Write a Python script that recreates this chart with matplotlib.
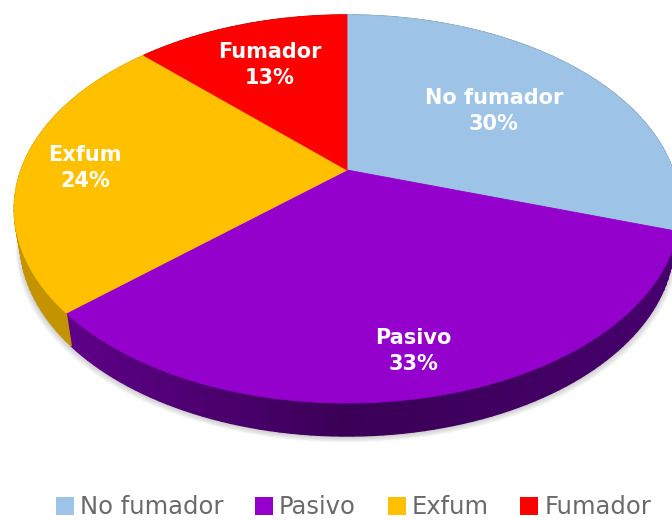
import numpy as np
import matplotlib
matplotlib.use("Agg")
import matplotlib.pyplot as plt
from matplotlib.path import Path
from matplotlib.transforms import Transform, Affine2D

categories = ["No fumador", "Pasivo", "Exfum", "Fumador"]
values = [30, 33.4, 24, 12.6]
colors = ["#9DC3E6", "#9400CC", "#FFC000", "#FF0000"]
label_xy = [(494, 111), (413, 351), (85, 168), (270, 65)]

CX, CY, A, B, K = 347.0, 170.0, 326.0, 186.2, 0.201
DEPTH, SHRINK = 33.0, 0.982


def project(u, v, dy=0.0, s=1.0):
    den = 1 + K * v
    return CX + s * A * u / den, CY - B * v / den + dy


class Persp(Transform):
    input_dims = output_dims = 2
    has_inverse = False
    is_affine = False

    def transform_non_affine(self, values):
        x, y = project(values[:, 0], values[:, 1])
        return np.column_stack([x, y])

    def transform_path_non_affine(self, path):
        big = path.transformed(Affine2D().scale(2000))
        poly = big.to_polygons(closed_only=False)[0] / 2000
        return Path(self.transform_non_affine(poly))


fig = plt.figure(figsize=(6.72, 5.20), dpi=100)
ax = fig.add_axes([0, 0, 1, 1])
wedges, _ = ax.pie(values, colors=colors, startangle=90, counterclock=False, radius=1)
ax.set_aspect("auto")
ax.set_xlim(0, 672)
ax.set_ylim(520, 0)
ax.axis("off")

persp = Persp()
for w, c in zip(wedges, colors):
    w.set_transform(persp + ax.transData)
    w.set_zorder(3)
    w.set_edgecolor(c)
    w.set_linewidth(0.6)
    w.set_clip_on(True)

# soft shadow under the rim
th = np.linspace(0, 2 * np.pi, 361)
for i in range(7):
    sx, sy = project(np.sin(th), np.cos(th), dy=DEPTH + 1 + i * 0.9, s=SHRINK + i * 0.0022)
    ax.fill(sx, sy, color="#707070", alpha=0.055, lw=0, zorder=0.2)


def lerp(c1, c2, t):
    c1, c2 = np.array(matplotlib.colors.to_rgb(c1)), np.array(matplotlib.colors.to_rgb(c2))
    return tuple(c1 + (c2 - c1) * t)


# side wall, built from the slice angles
ends = np.cumsum(values) / np.sum(values) * 2 * np.pi
starts = np.r_[0, ends[:-1]]
for a0, a1, name in zip(starts, ends, categories):
    steps = np.linspace(a0, a1, int((a1 - a0) / np.radians(1.5)) + 2)
    for t0, t1 in zip(steps[:-1], steps[1:]):
        x0, y0 = project(np.sin(t0), np.cos(t0))
        x1, y1 = project(np.sin(t1), np.cos(t1))
        x2, y2 = project(np.sin(t1), np.cos(t1), DEPTH, SHRINK)
        x3, y3 = project(np.sin(t0), np.cos(t0), DEPTH, SHRINK)
        xm = (x0 + x1) / 2
        if name == "Pasivo":
            col = lerp("#5E0088", "#3A0056", (xm - 67) / 280) if xm < 347 else lerp("#3A0056", "#46006C", (xm - 347) / 320)
        elif name == "Exfum":
            col = "#C49300"
        elif name == "No fumador":
            col = "#5F7F9E"
        else:
            col = "#A00000"
        ax.fill([x0, x1, x2, x3], [y0, y1, y2, y3], color=col, lw=1.0, zorder=1)

for cat, val, (lx, ly) in zip(categories, values, label_xy):
    ax.text(lx, ly, f"{cat}\n{round(val)}%", color="white", fontsize=15, fontweight="bold",
            ha="center", va="center", linespacing=1.4, zorder=5, family="DejaVu Sans")

leg = ax.legend(wedges, categories, ncol=4, loc="lower center", bbox_to_anchor=(0.526, 0.001),
                frameon=False, fontsize=17.5, labelcolor="#6A6A6A", handlelength=0.74, handleheight=0.74,
                handletextpad=0.25, columnspacing=1.3, borderpad=0, borderaxespad=0)
for h in leg.legend_handles:
    h.set_linewidth(0)

fig.savefig("out.png", dpi=100)
